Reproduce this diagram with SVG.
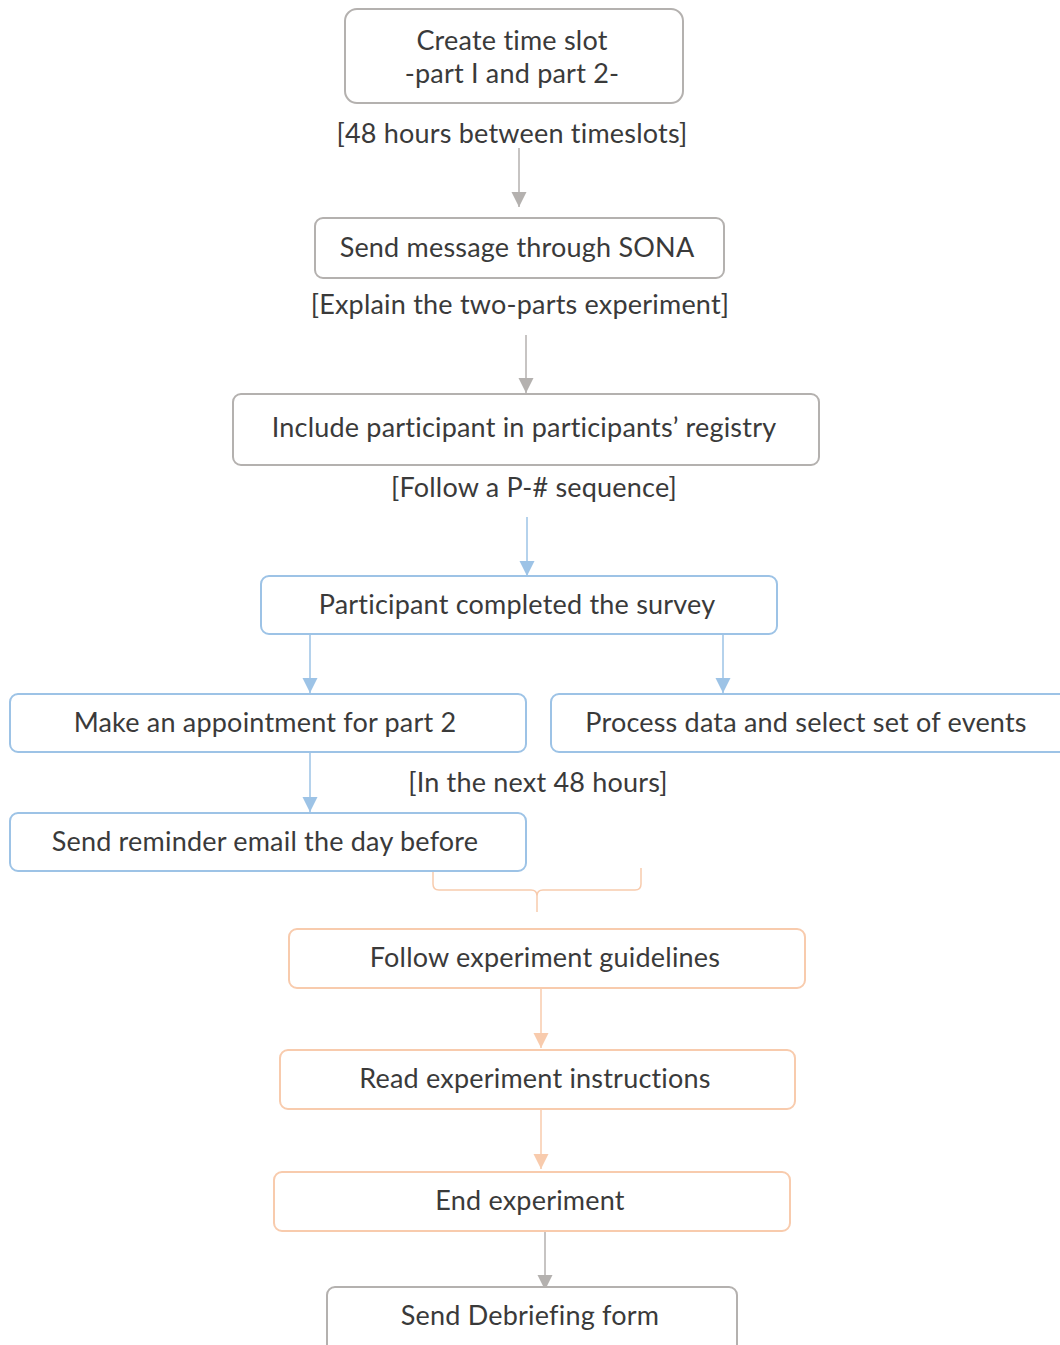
<svg xmlns="http://www.w3.org/2000/svg" width="1060" height="1345" viewBox="0 0 1060 1345">
<style>
text{font-family:Lato,"Open Sans","Liberation Sans",sans-serif;font-size:27px;fill:#3a3a3a;text-anchor:middle;letter-spacing:0.2px}
.n{fill:#fff;stroke-width:2}
.g{stroke:#b4b1af}
.b{stroke:#9dc3e6}
.o{stroke:#f8cbad}
.c{fill:none;stroke-width:1.5}
</style>
<defs>
<marker id="ag" markerUnits="userSpaceOnUse" markerWidth="18" markerHeight="18" refX="15" refY="9" orient="auto"><path d="M0,1.5 L15,9 L0,16.5 Z" fill="#b4b1af"/></marker>
<marker id="ab" markerUnits="userSpaceOnUse" markerWidth="18" markerHeight="18" refX="15" refY="9" orient="auto"><path d="M0,1.5 L15,9 L0,16.5 Z" fill="#9dc3e6"/></marker>
<marker id="ao" markerUnits="userSpaceOnUse" markerWidth="18" markerHeight="18" refX="15" refY="9" orient="auto"><path d="M0,1.5 L15,9 L0,16.5 Z" fill="#f8cbad"/></marker>
</defs>
<rect width="1060" height="1345" fill="#fff"/>
<g id="connectors">
<line class="c g" x1="519" y1="148" x2="519" y2="207" marker-end="url(#ag)"/>
<line class="c g" x1="526" y1="335" x2="526" y2="393" marker-end="url(#ag)"/>
<line class="c b" x1="527" y1="517" x2="527" y2="576" marker-end="url(#ab)"/>
<line class="c b" x1="310" y1="634" x2="310" y2="693" marker-end="url(#ab)"/>
<line class="c b" x1="723" y1="634" x2="723" y2="693" marker-end="url(#ab)"/>
<line class="c b" x1="310" y1="752" x2="310" y2="812" marker-end="url(#ab)"/>
<path class="c o" d="M433,868 L433,884 Q433,890 439,890 L531,890 Q537,890 537,896 L537,912 M537,896 Q537,890 543,890 L635,890 Q641,890 641,884 L641,868"/>
<line class="c o" x1="541" y1="988" x2="541" y2="1048" marker-end="url(#ao)"/>
<line class="c o" x1="541" y1="1109" x2="541" y2="1169" marker-end="url(#ao)"/>
<line class="c g" x1="545" y1="1231" x2="545" y2="1290" marker-end="url(#ag)"/>
</g>
<g id="n1"><rect class="n g" x="345" y="9" width="338" height="94" rx="12"/><text x="512" y="50">Create time slot</text><text x="512" y="83">-part I and part 2-</text></g>
<g id="l1"><text x="512" y="143">[48 hours between timeslots]</text></g>
<g id="n2"><rect class="n g" x="315" y="218" width="409" height="60" rx="8"/><text x="517" y="257">Send message through SONA</text></g>
<g id="l2"><text x="520" y="314">[Explain the two-parts experiment]</text></g>
<g id="n3"><rect class="n g" x="233" y="394" width="586" height="71" rx="8"/><text x="524" y="437">Include participant in participants’ registry</text></g>
<g id="l3"><text x="534" y="497">[Follow a P-# sequence]</text></g>
<g id="n4"><rect class="n b" x="261" y="576" width="516" height="58" rx="8"/><text x="517" y="614">Participant completed the survey</text></g>
<g id="n5"><rect class="n b" x="10" y="694" width="516" height="58" rx="8"/><text x="265" y="732">Make an appointment for part 2</text></g>
<g id="n6"><rect class="n b" x="551" y="694" width="520" height="58" rx="8"/><text x="806" y="732">Process data and select set of events</text></g>
<g id="l4"><text x="538" y="792">[In the next 48 hours]</text></g>
<g id="n7"><rect class="n b" x="10" y="813" width="516" height="58" rx="8"/><text x="265" y="851">Send reminder email the day before</text></g>
<g id="n8"><rect class="n o" x="289" y="929" width="516" height="59" rx="8"/><text x="545" y="967">Follow experiment guidelines</text></g>
<g id="n9"><rect class="n o" x="280" y="1050" width="515" height="59" rx="8"/><text x="535" y="1088">Read experiment instructions</text></g>
<g id="n10"><rect class="n o" x="274" y="1172" width="516" height="59" rx="8"/><text x="530" y="1210">End experiment</text></g>
<g id="n11"><rect class="n g" x="327" y="1287" width="410" height="70" rx="8"/><text x="530" y="1325">Send Debriefing form</text></g>
</svg>
